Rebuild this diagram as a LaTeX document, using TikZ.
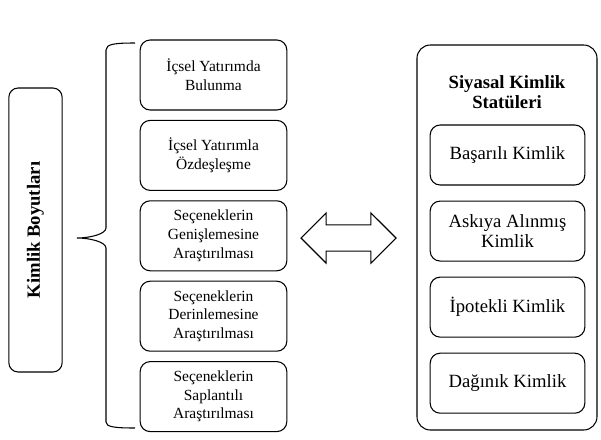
\documentclass[tikz,border=0pt]{standalone}
\usepackage{fontspec}
\setmainfont{Liberation Serif}
\usetikzlibrary{shapes.arrows, positioning}

\begin{document}
\begin{tikzpicture}[
    x=0.75pt, y=-0.75pt,
    node distance=7pt,
    dimbox/.style={rectangle, rounded corners=7.5pt, draw, line width=0.8pt, minimum width=110pt, minimum height=52.5pt, align=center, inner sep=2pt, font=\fontsize{11.6}{14}\selectfont},
    statbox/.style={rectangle, rounded corners=7.5pt, draw, line width=0.8pt, minimum width=116pt, minimum height=45pt, align=center, inner sep=2pt, font=\fontsize{14}{15}\selectfont}
]
\useasboundingbox (0,0) rectangle (601,440);

% left side
\node[rectangle, rounded corners=7pt, draw, line width=0.8pt, rotate=90, minimum width=213pt, minimum height=40pt, font=\fontsize{14}{16}\bfseries] (kimlik) at (35.5,230) {Kimlik Boyutları};

\node[dimbox] (d1) at (213.5,75) {İçsel Yatırımda\\Bulunma};
\node[dimbox, below=of d1] (d2) {İçsel Yatırımla\\Özdeşleşme};
\node[dimbox, below=of d2] (d3) {Seçeneklerin\\Genişlemesine\\Araştırılması};
\node[dimbox, below=of d3] (d4) {Seçeneklerin\\Derinlemesine\\Araştırılması};
\node[dimbox, below=of d4] (d5) {Seçeneklerin\\Saplantılı\\Araştırılması};

% brace
\draw[line width=0.8pt] (135,43) .. controls (115,43) and (106,44) .. (106,50) -- (106,228)
    .. controls (106,234) and (90,238) .. (77,238) .. controls (90,238) and (106,242) .. (106,248)
    -- (106,422) .. controls (106,427) and (115,428) .. (135,428);

% double arrow
\node[double arrow, draw, line width=0.8pt, inner xsep=0pt, inner ysep=9.4pt, double arrow head extend=9pt, minimum height=71.25pt] (link) at (348.5,238) {};

% right side
\node[rectangle, rounded corners=10pt, draw, line width=0.8pt, minimum width=135pt, minimum height=288.75pt] (statuler) at (507,237.5) {};
\node[align=center, font=\fontsize{14}{15}\bfseries] (baslik) at (507,92) {Siyasal Kimlik\\Statüleri};

\node[statbox] (s1) at (507.5,155) {Başarılı Kimlik};
\node[statbox, below=11.25pt of s1] (s2) {Askıya Alınmış\\Kimlik};
\node[statbox, below=11.25pt of s2] (s3) {İpotekli Kimlik};
\node[statbox, below=11.25pt of s3] (s4) {Dağınık Kimlik};
\end{tikzpicture}
\end{document}
